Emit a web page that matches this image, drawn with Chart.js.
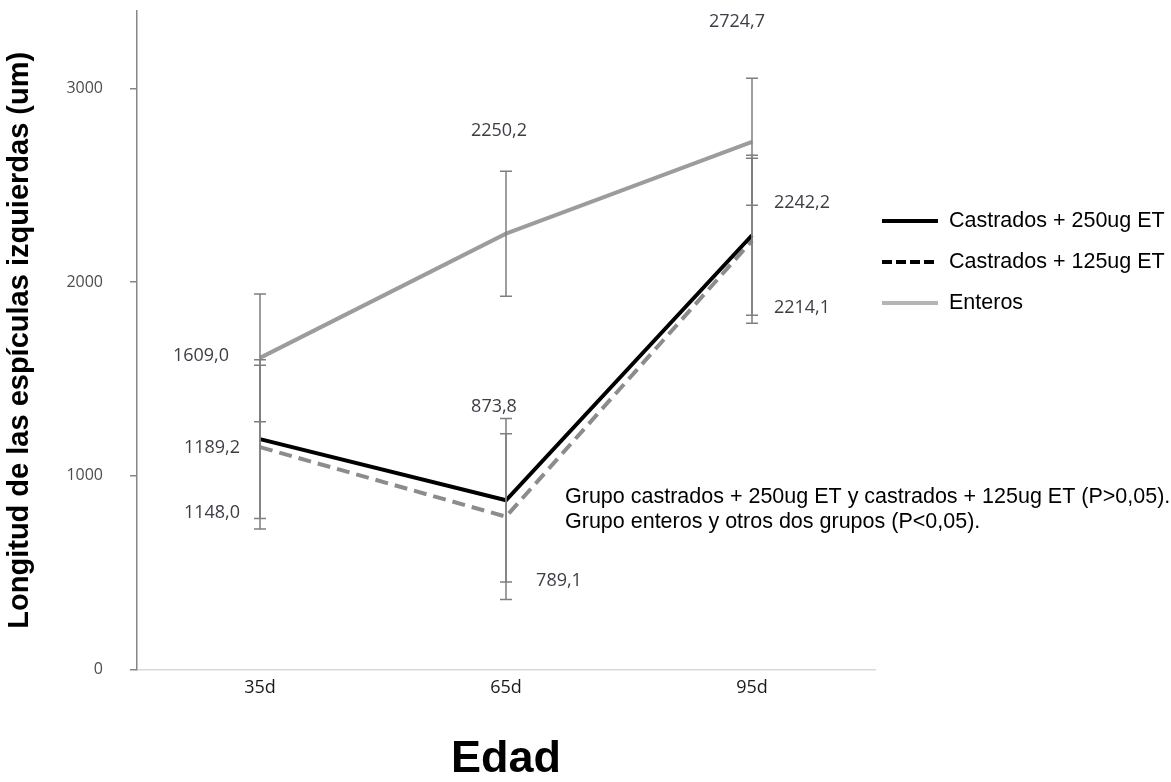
<!DOCTYPE html>
<html><head><meta charset="utf-8">
<script src="https://cdn.jsdelivr.net/npm/chart.js@4.4.1/dist/chart.umd.min.js"></script>
<style>html,body{margin:0;padding:0;background:#fff}#wrap{width:1171px;height:782px;position:relative}</style>
</head><body><div id="wrap"><canvas id="c" width="1171" height="782"></canvas></div>
<script>
// ---- data ----
const categories = ['35d', '65d', '95d'];
const seriesNames = ['Castrados + 250ug ET', 'Castrados + 125ug ET', 'Enteros'];
const castrados250 = [1189.2, 873.8, 2242.2];
const castrados125 = [1148.0, 789.1, 2214.1];
const enteros = [1609.0, 2250.2, 2724.7];
const errCastrados250 = [410, 422, 413];
const errCastrados125 = [423, 428, 426];
const errEnteros = [330, 323, 328];
const yTickValues = [0, 1000, 2000, 3000];
const noteLines = [
  'Grupo castrados + 250ug ET y castrados + 125ug ET (P>0,05).',
  'Grupo enteros y otros dos grupos (P<0,05).'
];

// ---- label placement (pixel offsets from each point) ----
const offs250 = [[-48, 9], [-12, -93], [50, -32]];
const offs125 = [[-48, 66], [53, 64], [50, 67]];
const offsEnteros = [[-59, -2], [-7, -103], [-15, -120]];

const fmt = v => v.toFixed(1).replace('.', ',');

const errorBarPlugin = {
  id: 'errorBars',
  afterDatasetsDraw(chart) {
    const ctx = chart.ctx, xs = chart.scales.x, ys = chart.scales.y;
    ctx.save();
    ctx.strokeStyle = '#7f7f7f';
    ctx.lineWidth = 1.5;
    ctx.setLineDash([]);
    chart.data.datasets.forEach(ds => {
      ds.data.forEach((v, i) => {
        const x = xs.getPixelForValue(i);
        const yt = ys.getPixelForValue(v + ds.err[i]);
        const yb = ys.getPixelForValue(v - ds.err[i]);
        ctx.beginPath();
        ctx.moveTo(x, yt); ctx.lineTo(x, yb);
        ctx.moveTo(x - 6, yt); ctx.lineTo(x + 6, yt);
        ctx.moveTo(x - 6, yb); ctx.lineTo(x + 6, yb);
        ctx.stroke();
      });
    });
    ctx.restore();
  }
};

const valueLabelPlugin = {
  id: 'valueLabels',
  afterDatasetsDraw(chart) {
    const ctx = chart.ctx, xs = chart.scales.x, ys = chart.scales.y;
    ctx.save();
    ctx.font = '18px "Open Sans"';
    ctx.fillStyle = '#3d3d45';
    ctx.textAlign = 'center';
    ctx.textBaseline = 'middle';
    chart.data.datasets.forEach(ds => {
      ds.data.forEach((v, i) => {
        const x = xs.getPixelForValue(i) + ds.labelOffsets[i][0];
        const y = ys.getPixelForValue(v) + ds.labelOffsets[i][1];
        ctx.fillText(fmt(v), x, y);
      });
    });
    ctx.restore();
  }
};

const sideLegendPlugin = {
  id: 'sideLegend',
  afterDraw(chart) {
    const ctx = chart.ctx;
    const x0 = chart.chartArea.right + 7, len = 56, tx = x0 + 67;
    const font = '21.5px "Liberation Sans", Arial, sans-serif';
    ctx.save();
    chart.data.datasets.forEach((ds, i) => {
      const y = 221 + i * 41;
      ctx.beginPath();
      ctx.strokeStyle = ds.legendColor;
      ctx.lineWidth = 4;
      ctx.setLineDash(ds.legendDash);
      ctx.moveTo(x0, y); ctx.lineTo(x0 + len, y);
      ctx.stroke();
      ctx.setLineDash([]);
      ctx.font = font;
      ctx.fillStyle = '#000';
      ctx.textAlign = 'left';
      ctx.textBaseline = 'middle';
      ctx.fillText(ds.label, tx, y);
    });
    ctx.font = font;
    ctx.fillStyle = '#000';
    ctx.textAlign = 'left';
    ctx.textBaseline = 'middle';
    noteLines.forEach((t, i) => ctx.fillText(t, 565, 497 + i * 25));
    ctx.restore();
  }
};

new Chart(document.getElementById('c'), {
  type: 'line',
  data: {
    labels: categories,
    datasets: [
      { label: seriesNames[0], data: castrados250, err: errCastrados250, labelOffsets: offs250,
        borderColor: '#000000', borderWidth: 4, legendColor: '#000000', legendDash: [] },
      { label: seriesNames[1], data: castrados125, err: errCastrados125, labelOffsets: offs125,
        borderColor: '#8c8c8c', borderWidth: 4, borderDash: [13, 7], legendColor: '#000000', legendDash: [10, 4] },
      { label: seriesNames[2], data: enteros, err: errEnteros, labelOffsets: offsEnteros,
        borderColor: '#9c9c9c', borderWidth: 4, legendColor: '#b4b4b4', legendDash: [] }
    ]
  },
  options: {
    responsive: false,
    animation: false,
    devicePixelRatio: 1,
    layout: { padding: { left: 0, top: 11, right: 296, bottom: 0 } },
    elements: { point: { radius: 0, hoverRadius: 0 }, line: { tension: 0, fill: false } },
    plugins: { legend: { display: false }, tooltip: { enabled: false } },
    scales: {
      x: {
        type: 'category', offset: true,
        grid: { display: false, drawTicks: false },
        border: { display: true, color: '#d9d9d9', width: 1.5 },
        ticks: { color: '#1a1a1a', font: { family: 'Open Sans', size: 18 }, padding: 8 },
        title: { display: true, text: 'Edad', color: '#000',
          font: { family: 'Liberation Sans', weight: 'bold', size: 45, lineHeight: 1 }, padding: { top: 0, bottom: 0 } },
        afterFit: s => { s.height = 782 - 669.5; }
      },
      y: {
        min: 0, max: 3400,
        afterBuildTicks: s => { s.ticks = yTickValues.map(v => ({ value: v })); },
        grid: { drawOnChartArea: false, drawTicks: true, tickLength: 7, color: '#868686', lineWidth: 1.5 },
        border: { display: true, color: '#868686', width: 1.5 },
        ticks: { color: '#4d4d4d', font: { family: 'Open Sans', size: 16 }, padding: 27, callback: v => String(v) },
        title: { display: true, text: 'Longitud de las espículas izquierdas (um)', color: '#000',
          font: { family: 'Liberation Sans', weight: 'bold', size: 29 }, padding: { top: 3, bottom: 0 } },
        afterFit: s => { s.width = 137; s.paddingTop = 0; s.paddingBottom = 0; }
      }
    }
  },
  plugins: [errorBarPlugin, valueLabelPlugin, sideLegendPlugin]
});
</script>
</body></html>
